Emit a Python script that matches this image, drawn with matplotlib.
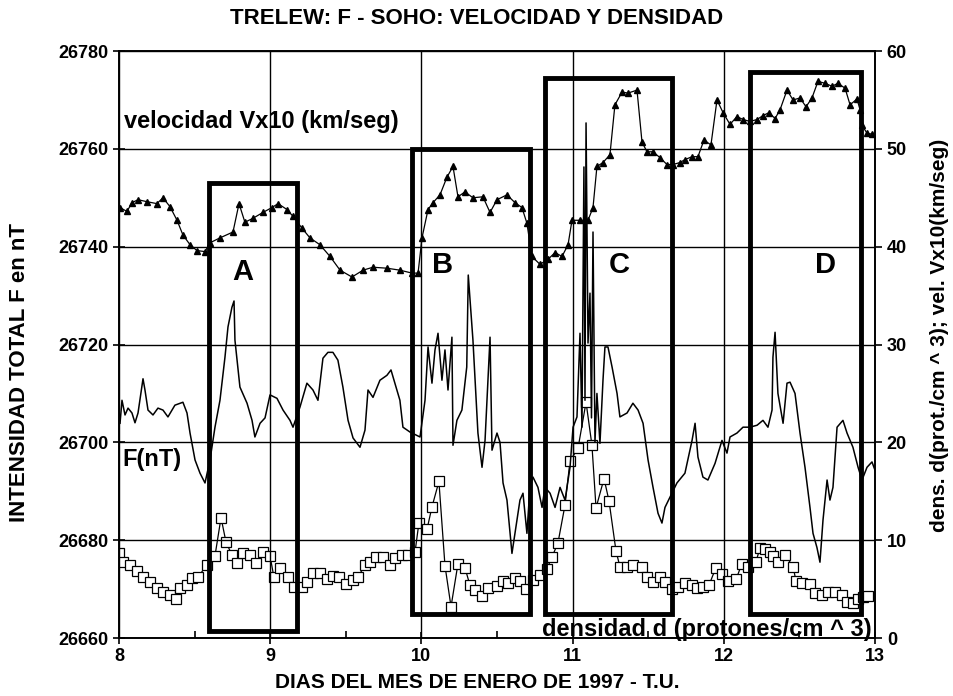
import matplotlib
matplotlib.use("Agg")
import matplotlib.pyplot as plt
from matplotlib.patches import Rectangle
from matplotlib.ticker import MultipleLocator

# total field F at Trelew (nT)
f_day = [8.007, 8.020, 8.040, 8.060, 8.086, 8.106, 8.126, 8.159, 8.172, 8.192,
         8.225, 8.258, 8.291, 8.324, 8.370, 8.423, 8.450, 8.470, 8.503, 8.536,
         8.569, 8.602, 8.635, 8.668, 8.701, 8.721, 8.747, 8.761, 8.767, 8.800,
         8.847, 8.880, 8.899, 8.933, 8.966, 8.999, 9.045, 9.085, 9.131, 9.151,
         9.197, 9.243, 9.283, 9.316, 9.349, 9.382, 9.415, 9.448, 9.481, 9.515,
         9.548, 9.594, 9.627, 9.647, 9.680, 9.726, 9.772, 9.799, 9.825, 9.858,
         9.878, 9.925, 9.991, 10.024, 10.044, 10.070, 10.090, 10.110, 10.136, 10.156,
         10.176, 10.202, 10.209, 10.235, 10.268, 10.300, 10.310, 10.341, 10.374, 10.401,
         10.421, 10.454, 10.467, 10.500, 10.520, 10.540, 10.566, 10.599, 10.619, 10.652,
         10.672, 10.698, 10.718, 10.738, 10.771, 10.798, 10.817, 10.851, 10.884, 10.917,
         10.950, 10.983, 11.003, 11.029, 11.049, 11.062, 11.075, 11.082, 11.089, 11.102,
         11.115, 11.125, 11.135, 11.148, 11.161, 11.181, 11.201, 11.214, 11.234, 11.261,
         11.294, 11.313, 11.360, 11.399, 11.433, 11.466, 11.499, 11.532, 11.565, 11.591,
         11.611, 11.644, 11.690, 11.743, 11.790, 11.810, 11.829, 11.862, 11.895, 11.942,
         11.988, 12.021, 12.041, 12.087, 12.127, 12.173, 12.220, 12.259, 12.292, 12.319,
         12.325, 12.339, 12.358, 12.392, 12.418, 12.438, 12.471, 12.504, 12.537, 12.570,
         12.590, 12.616, 12.636, 12.656, 12.683, 12.702, 12.722, 12.749, 12.788, 12.815,
         12.854, 12.888, 12.914, 12.947, 12.980, 13.000]
f_nt = [26703.9, 26708.6, 26705.6, 26707.0, 26706.0, 26704.0, 26706.0, 26713.0, 26710.7, 26706.6,
        26705.6, 26707.0, 26706.6, 26705.2, 26707.6, 26708.2, 26706.0, 26701.9, 26696.4, 26693.7,
        26691.7, 26696.4, 26703.1, 26708.6, 26717.4, 26723.6, 26727.6, 26728.9, 26720.9, 26711.3,
        26708.0, 26704.5, 26701.1, 26703.9, 26705.0, 26709.7, 26709.0, 26706.6, 26704.5, 26703.1,
        26707.2, 26712.1, 26710.7, 26708.6, 26717.2, 26718.4, 26718.4, 26716.8, 26711.3, 26704.5,
        26700.9, 26699.0, 26702.5, 26710.7, 26709.2, 26712.7, 26713.7, 26714.8, 26712.1, 26708.6,
        26703.1, 26702.1, 26701.1, 26708.6, 26719.5, 26712.1, 26718.9, 26722.3, 26712.7, 26718.9,
        26710.7, 26721.5, 26699.4, 26704.5, 26706.6, 26715.4, 26734.2, 26720.9, 26701.9, 26694.9,
        26700.4, 26721.5, 26698.4, 26701.9, 26700.0, 26691.7, 26688.2, 26677.3, 26681.4, 26688.2,
        26689.6, 26681.4, 26690.8, 26692.9, 26690.8, 26686.7, 26690.8, 26689.6, 26686.7, 26690.8,
        26688.2, 26694.9, 26703.1, 26705.2, 26722.3, 26703.1, 26756.3, 26708.6, 26765.3, 26720.3,
        26730.5, 26705.0, 26743.0, 26700.0, 26710.0, 26699.8, 26712.7, 26719.5, 26719.5, 26715.4,
        26710.0, 26705.2, 26706.0, 26708.0, 26706.6, 26703.9, 26696.4, 26690.8, 26685.5, 26683.5,
        26686.7, 26688.8, 26691.7, 26693.7, 26700.4, 26703.9, 26697.0, 26692.9, 26692.3, 26695.7,
        26700.4, 26697.8, 26701.1, 26701.9, 26703.1, 26703.1, 26703.5, 26704.5, 26703.1, 26706.6,
        26717.4, 26722.5, 26710.0, 26703.9, 26712.1, 26712.3, 26710.0, 26701.9, 26694.9, 26686.7,
        26681.4, 26678.5, 26675.5, 26684.1, 26692.3, 26688.2, 26690.8, 26703.1, 26704.5, 26701.9,
        26699.0, 26694.9, 26692.3, 26694.9, 26696.0, 26694.3]

# SOHO velocity Vx10 (km/seg), right axis
v_day = [8.007, 8.053, 8.086, 8.126, 8.185, 8.251, 8.291, 8.337, 8.384, 8.423,
         8.470, 8.516, 8.569, 8.602, 8.668, 8.754, 8.794, 8.833, 8.886, 8.952,
         9.012, 9.052, 9.111, 9.151, 9.210, 9.263, 9.329, 9.396, 9.462, 9.541,
         9.614, 9.680, 9.772, 9.858, 9.938, 9.978, 10.004, 10.044, 10.077, 10.123,
         10.169, 10.209, 10.242, 10.288, 10.341, 10.407, 10.454, 10.500, 10.566, 10.619,
         10.665, 10.698, 10.731, 10.784, 10.837, 10.884, 10.930, 10.970, 10.996, 11.049,
         11.102, 11.135, 11.161, 11.201, 11.247, 11.280, 11.327, 11.366, 11.426, 11.459,
         11.492, 11.532, 11.578, 11.624, 11.664, 11.710, 11.743, 11.790, 11.829, 11.869,
         11.915, 11.955, 11.995, 12.041, 12.087, 12.127, 12.173, 12.220, 12.259, 12.299,
         12.339, 12.372, 12.418, 12.458, 12.504, 12.544, 12.583, 12.623, 12.669, 12.716,
         12.755, 12.802, 12.835, 12.881, 12.901, 12.914, 12.947, 12.980]
v_kms = [44.0, 43.6, 44.5, 44.8, 44.6, 44.4, 45.0, 44.1, 42.7, 41.2,
         40.2, 39.6, 39.5, 40.4, 40.9, 41.5, 44.4, 42.5, 42.9, 43.5,
         44.0, 44.4, 43.8, 43.1, 41.9, 40.9, 40.2, 39.0, 37.6, 36.9,
         37.6, 37.9, 37.8, 37.6, 37.3, 37.3, 40.9, 43.8, 44.5, 45.3,
         47.1, 48.2, 45.1, 45.6, 45.0, 45.1, 43.5, 44.8, 45.3, 44.5,
         44.0, 42.4, 39.0, 38.2, 38.7, 39.4, 39.0, 40.2, 42.7, 42.7,
         42.7, 44.0, 48.2, 48.6, 49.4, 54.5, 55.8, 55.7, 56.0, 50.7,
         49.7, 49.7, 49.1, 48.4, 48.4, 48.6, 48.9, 49.2, 49.2, 50.9,
         50.4, 55.0, 53.7, 52.5, 53.3, 53.0, 52.8, 53.0, 53.4, 53.7,
         53.1, 54.0, 56.0, 55.0, 55.2, 54.3, 55.2, 56.9, 56.7, 56.4,
         56.7, 56.2, 54.5, 55.1, 54.0, 52.4, 51.6, 51.5]

# SOHO density d (protones/cm^3), right axis
d_day = [8.000, 8.026, 8.073, 8.119, 8.159, 8.205, 8.251, 8.291, 8.337, 8.377,
         8.403, 8.450, 8.483, 8.522, 8.582, 8.635, 8.675, 8.708, 8.747, 8.780,
         8.820, 8.866, 8.906, 8.952, 8.999, 9.025, 9.065, 9.118, 9.157, 9.210,
         9.243, 9.283, 9.329, 9.376, 9.415, 9.455, 9.501, 9.548, 9.581, 9.627,
         9.660, 9.700, 9.746, 9.792, 9.825, 9.872, 9.911, 9.958, 9.984, 10.037,
         10.070, 10.116, 10.156, 10.196, 10.242, 10.288, 10.321, 10.354, 10.401, 10.440,
         10.500, 10.540, 10.573, 10.619, 10.652, 10.692, 10.738, 10.784, 10.831, 10.864,
         10.903, 10.950, 10.983, 11.036, 11.089, 11.128, 11.155, 11.208, 11.241, 11.287,
         11.313, 11.360, 11.399, 11.459, 11.492, 11.532, 11.578, 11.611, 11.657, 11.697,
         11.743, 11.790, 11.823, 11.862, 11.902, 11.948, 11.988, 12.028, 12.081, 12.120,
         12.160, 12.213, 12.239, 12.272, 12.306, 12.325, 12.358, 12.405, 12.458, 12.478,
         12.517, 12.570, 12.603, 12.649, 12.689, 12.735, 12.782, 12.815, 12.854, 12.888,
         12.921, 12.954]
d_prot = [8.7, 7.8, 7.5, 6.8, 6.2, 5.7, 5.1, 4.7, 4.4, 4.0,
          5.1, 5.4, 6.1, 6.2, 7.5, 8.4, 12.3, 9.8, 8.5, 7.7,
          8.7, 8.5, 7.7, 8.8, 8.4, 6.2, 7.2, 6.2, 5.2, 5.2,
          5.7, 6.6, 6.6, 6.0, 6.3, 6.2, 5.5, 5.9, 6.2, 7.5,
          7.8, 8.3, 8.3, 7.5, 8.2, 8.5, 8.5, 8.8, 11.8, 11.1,
          13.4, 16.0, 7.4, 3.2, 7.6, 7.2, 5.4, 4.9, 4.3, 5.1,
          5.3, 5.8, 5.6, 6.1, 5.8, 5.0, 5.9, 6.4, 7.1, 8.3,
          9.7, 13.6, 18.1, 19.4, 24.1, 19.7, 13.3, 16.3, 14.0, 8.9,
          7.3, 7.3, 7.5, 7.3, 6.2, 5.7, 6.2, 5.7, 5.0, 5.2,
          5.6, 5.4, 5.1, 5.2, 5.4, 7.2, 6.5, 5.8, 6.0, 7.6,
          7.3, 7.8, 9.2, 9.1, 8.8, 8.4, 7.8, 8.5, 7.3, 5.8,
          5.6, 5.5, 4.6, 4.4, 4.7, 4.7, 4.4, 3.7, 3.6, 4.0,
          4.2, 4.3]

# boxes marking the events (days, nT)
box_names = ["A", "B", "C", "D"]
box_start = [8.595, 9.94, 10.82, 12.17]
box_end = [9.18, 10.72, 11.66, 12.91]
box_low = [26661.4, 26665.0, 26665.0, 26665.0]
box_high = [26753.0, 26760.0, 26774.5, 26775.7]
letter_day = [8.82, 10.14, 11.31, 12.67]
letter_nt = [26734.8, 26736.2, 26736.2, 26736.2]

bold = {"family": ["Liberation Sans", "DejaVu Sans"], "weight": "bold"}

fig = plt.figure(figsize=(9.54, 6.96), dpi=100)
ax = fig.add_axes([0.1247, 0.0833, 0.7925, 0.8434])
ax2 = ax.twinx()
ax.set_zorder(ax2.get_zorder() + 1)
ax.patch.set_visible(False)

# right axis: velocity and density
ax2.plot(v_day, v_kms, color="black", lw=0.9, marker="^", ms=4.5, mfc="black", mec="black")
ax2.plot(d_day, d_prot, color="black", lw=0.9, marker="s", ms=6.5, mfc="white", mec="black", mew=0.9)
ax2.set_ylim(0, 60)
ax2.yaxis.set_major_locator(MultipleLocator(10))

# left axis: F
ax.plot(f_day, f_nt, color="black", lw=1.1)
ax.set_xlim(8, 13)
ax.set_ylim(26660, 26780)
ax.yaxis.set_major_locator(MultipleLocator(20))
ax.xaxis.set_major_locator(MultipleLocator(1))
ax.xaxis.set_minor_locator(MultipleLocator(0.5))
ax.grid(True, which="major", color="black", lw=1.0)

for name, x0, x1, y0, y1, lx, ly in zip(box_names, box_start, box_end, box_low, box_high,
                                         letter_day, letter_nt):
    ax.add_patch(Rectangle((x0, y0), x1 - x0, y1 - y0, fill=False, ec="black", lw=3.5, zorder=5))
    ax.text(lx, ly, name, ha="center", va="center", fontsize=21, **bold)

ax.text(8.03, 26765.5, "velocidad Vx10 (km/seg)", ha="left", va="center", fontsize=17, **bold)
ax.text(8.02, 26696.5, "F(nT)", ha="left", va="center", fontsize=17, **bold)
ax.text(12.98, 26661.8, "densidad d (protones/cm ^ 3)", ha="right", va="center", fontsize=17, **bold)

for a in (ax, ax2):
    for s in a.spines.values():
        s.set_linewidth(1.2)
ax.tick_params(axis="both", which="major", direction="inout", length=8, width=1.2, labelsize=13)
ax.tick_params(axis="x", which="minor", direction="in", length=5, width=1.2)
ax2.tick_params(axis="y", direction="out", length=5, width=1.2, labelsize=13)
for lab in ax.get_xticklabels() + ax.get_yticklabels() + ax2.get_yticklabels():
    lab.set_fontfamily(bold["family"])
    lab.set_fontweight("bold")

fig.text(0.5, 1 - 18 / 696, "TRELEW: F - SOHO: VELOCIDAD Y DENSIDAD", ha="center", va="center",
         fontsize=16, **bold)
fig.text(0.5, 1 - 683 / 696, "DIAS DEL MES DE ENERO DE 1997 - T.U.", ha="center", va="center",
         fontsize=15, **bold)
fig.text(20 / 954, 1 - 372 / 696, "INTENSIDAD TOTAL F en nT", ha="center", va="center",
         rotation=90, fontsize=16, **bold)
fig.text(940 / 954, 1 - 335 / 696, "dens. d(prot./cm ^ 3); vel. Vx10(km/seg)", ha="center",
         va="center", rotation=90, fontsize=15, **bold)

fig.savefig("out.png", dpi=100)
